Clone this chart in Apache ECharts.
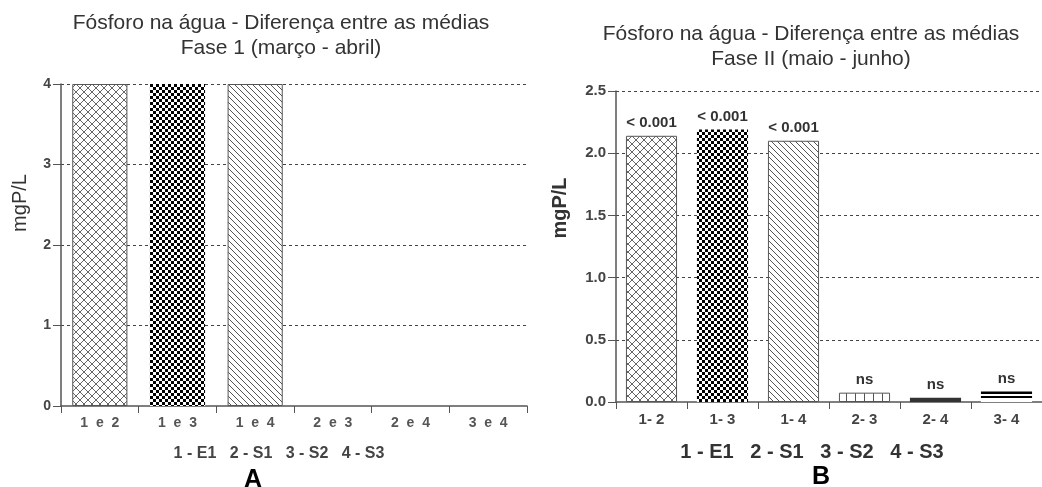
<!DOCTYPE html>
<html>
<head>
<meta charset="utf-8">
<script src="https://cdn.jsdelivr.net/npm/echarts@6/dist/echarts.min.js"></script>
<style>
html, body { margin: 0; padding: 0; background: #fff; }
#chart { width: 1042px; height: 487px; }
</style>
</head>
<body>
<div id="chart"></div>
<script>
// dados - fase 1
var catsA = ['1 e 2', '1 e 3', '1 e 4', '2 e 3', '2 e 4', '3 e 4'];
var valsA = [4, 4, 4, null, null, null];
var ticksA = [0, 1, 2, 3, 4];
// dados - fase 2
var catsB = ['1- 2', '1- 3', '1- 4', '2- 3', '2- 4', '3- 4'];
var valsB = [2.14, 2.19, 2.10, 0.075, 0.035, 0.085];
var sigB = ['< 0.001', '< 0.001', '< 0.001', 'ns', 'ns', 'ns'];
var ticksB = [0, 0.5, 1, 1.5, 2, 2.5];
var legenda = '1 - E1   2 - S1   3 - S2   4 - S3';

var FONT = '"Liberation Sans", Arial, sans-serif';

// texturas
function pattern(w, h, draw) {
    var c = document.createElement('canvas');
    c.width = w;
    c.height = h;
    var ctx = c.getContext('2d');
    ctx.fillStyle = '#fff';
    ctx.fillRect(0, 0, w, h);
    draw(ctx, w, h);
    return { image: c, repeat: 'repeat' };
}
var cross = pattern(8, 8, function (ctx) {
    ctx.strokeStyle = '#666';
    ctx.lineWidth = 1;
    ctx.beginPath();
    ctx.moveTo(-1, -1); ctx.lineTo(9, 9);
    ctx.moveTo(9, -1); ctx.lineTo(-1, 9);
    ctx.stroke();
});
var checker = pattern(6, 6, function (ctx) {
    ctx.fillStyle = '#000';
    ctx.fillRect(0, 0, 3, 3);
    ctx.fillRect(3, 3, 3, 3);
});
var hatch = pattern(6, 6, function (ctx) {
    ctx.strokeStyle = '#555';
    ctx.lineWidth = 1;
    ctx.beginPath();
    for (var o = -6; o <= 6; o += 6) {
        ctx.moveTo(o - 1, -1);
        ctx.lineTo(o + 7, 7);
    }
    ctx.stroke();
});
var vgrid = pattern(9, 9, function (ctx) {
    ctx.fillStyle = '#555';
    ctx.fillRect(0, 0, 1, 9);
});
var stripes = {
    type: 'linear', x: 0, y: 0, x2: 0, y2: 1,
    colorStops: [
        { offset: 0, color: '#000' }, { offset: 0.22, color: '#000' },
        { offset: 0.22, color: '#fff' }, { offset: 0.4, color: '#fff' },
        { offset: 0.4, color: '#000' }, { offset: 0.62, color: '#000' },
        { offset: 0.62, color: '#fff' }, { offset: 1, color: '#fff' }
    ]
};

var estilos = [
    { color: cross, borderColor: '#555', borderWidth: 1 },
    { color: checker },
    { color: hatch, borderColor: '#555', borderWidth: 1 },
    { color: vgrid, borderColor: '#555', borderWidth: 1 },
    { color: '#333' },
    { color: stripes }
];

function yAxisDe(idx, ticks, dec, fs) {
    return {
        type: 'value',
        gridIndex: idx,
        min: ticks[0],
        max: ticks[ticks.length - 1],
        interval: ticks[1] - ticks[0],
        axisLine: { show: true, lineStyle: { color: '#555', width: 1.5 } },
        axisTick: { show: true, length: 8, lineStyle: { color: '#555' } },
        axisLabel: {
            margin: 10, fontFamily: FONT, fontWeight: 'bold', fontSize: fs, color: '#444',
            formatter: function (v) { return dec ? v.toFixed(1) : v; }
        },
        splitLine: {
            show: true,
            showMinLine: false,
            lineStyle: { color: '#444', type: [3, 3], width: 1 }
        }
    };
}

function xAxisDe(idx, cats, spaced) {
    return {
        type: 'category',
        gridIndex: idx,
        data: cats,
        axisLine: { show: true, lineStyle: { color: '#555', width: 1.5 } },
        axisTick: { show: true, length: 7, lineStyle: { color: '#555' } },
        axisLabel: {
            margin: 10, fontFamily: FONT, fontWeight: 'bold', fontSize: spaced ? 14 : 15,
            color: spaced ? '#555' : '#444',
            formatter: function (v) { return spaced ? v.split(' ').join('  ') : v; }
        },
        splitLine: { show: false }
    };
}

var myChart = echarts.init(document.getElementById('chart'));

var option = {
    backgroundColor: '#fff',
    animation: false,
    title: [
        {
            text: 'Fósforo na água - Diferença entre as médias\nFase 1 (março - abril)',
            left: 276, top: 6, textAlign: 'center',
            textStyle: { fontFamily: FONT, fontWeight: 'normal', fontSize: 21, color: '#333', lineHeight: 25 }
        },
        {
            text: 'Fósforo na água - Diferença entre as médias\nFase II (maio - junho)',
            left: 806, top: 17, textAlign: 'center',
            textStyle: { fontFamily: FONT, fontWeight: 'normal', fontSize: 21, color: '#333', lineHeight: 25 }
        },
        {
            text: legenda, left: 274, top: 441, textAlign: 'center',
            textStyle: { fontFamily: FONT, fontWeight: 'bold', fontSize: 16, color: '#444' }
        },
        {
            text: legenda, left: 807, top: 437, textAlign: 'center',
            textStyle: { fontFamily: FONT, fontWeight: 'bold', fontSize: 20, color: '#333' }
        },
        {
            text: 'A', left: 248, top: 463, textAlign: 'center',
            textStyle: { fontFamily: FONT, fontWeight: 'bold', fontSize: 25, color: '#000' }
        },
        {
            text: 'B', left: 816, top: 460, textAlign: 'center',
            textStyle: { fontFamily: FONT, fontWeight: 'bold', fontSize: 25, color: '#000' }
        }
    ],
    graphic: [
        {
            type: 'text', x: 20, y: 203, rotation: Math.PI / 2,
            style: { text: 'mgP/L', fontFamily: FONT, fontSize: 20, fill: '#333', align: 'center', verticalAlign: 'middle' }
        },
        {
            type: 'text', x: 560, y: 208, rotation: Math.PI / 2,
            style: { text: 'mgP/L', fontFamily: FONT, fontWeight: 'bold', fontSize: 20, fill: '#333', align: 'center', verticalAlign: 'middle' }
        }
    ],
    grid: [
        { left: 61, top: 84, width: 466, height: 322 },
        { left: 616, top: 91, width: 432, height: 311 }
    ],
    xAxis: [xAxisDe(0, catsA, true), xAxisDe(1, catsB, false)],
    yAxis: [yAxisDe(0, ticksA, false, 14), yAxisDe(1, ticksB, true, 15)],
    series: [
        {
            type: 'bar',
            xAxisIndex: 0,
            yAxisIndex: 0,
            barWidth: '71%',
            data: valsA.map(function (v, i) { return { value: v, itemStyle: estilos[i] }; })
        },
        {
            type: 'bar',
            xAxisIndex: 1,
            yAxisIndex: 1,
            barWidth: '72%',
            label: {
                show: true, position: 'top', distance: 5,
                fontFamily: FONT, fontWeight: 'bold', fontSize: 15, color: '#333',
                formatter: function (p) { return sigB[p.dataIndex]; }
            },
            data: valsB.map(function (v, i) { return { value: v, itemStyle: estilos[i] }; })
        }
    ]
};

myChart.setOption(option);
</script>
</body>
</html>
